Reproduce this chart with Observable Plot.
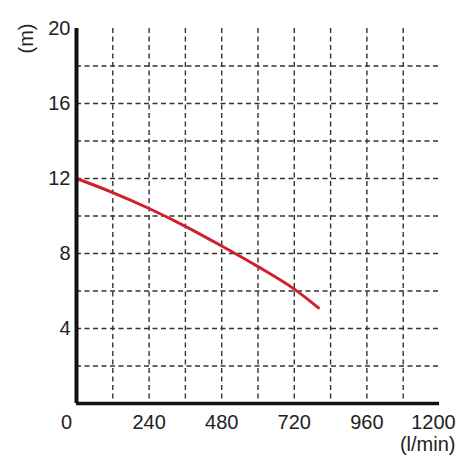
<!DOCTYPE html>
<html>
<head>
<meta charset="utf-8">
<script src="https://cdn.jsdelivr.net/npm/d3@7"></script>
<script src="https://cdn.jsdelivr.net/npm/@observablehq/plot@0.6"></script>
<style>
  html, body { margin: 0; padding: 0; background: #fff; }
  #chart { width: 475px; height: 475px; }
</style>
</head>
<body>
<div id="chart"></div>
<script>
// Flow rate (l/min) and head (m) of the pump curve
const flow = [0, 120, 240, 360, 480, 600, 720, 800];
const head = [12, 11.25, 10.4, 9.45, 8.4, 7.3, 6.1, 5.1];

const xTickValues = [0, 240, 480, 720, 960, 1200];
const yTickValues = [4, 8, 12, 16, 20];
const xGrid = [120, 240, 360, 480, 600, 720, 840, 960, 1080];
const yGrid = [2, 4, 6, 8, 10, 12, 14, 16, 18];
const xUnit = "(l/min)";
const yUnit = "(m)";

const curve = flow.map((q, i) => ({q, h: head[i]}));
const xInner = xTickValues.slice(1, -1);
const xFirst = [xTickValues[0]];
const xLast = [xTickValues[xTickValues.length - 1]];

const font = "'Liberation Sans', Arial, Helvetica, sans-serif";
const fmt = d => String(d);

const chart = Plot.plot({
  width: 475,
  height: 475,
  marginLeft: 76,
  marginRight: 36,
  marginTop: 28,
  marginBottom: 72,
  style: {fontFamily: font, fontSize: "20px", color: "#222", background: "#fff", overflow: "visible"},
  x: {domain: [0, 1200]},
  y: {domain: [0, 20]},
  marks: [
    Plot.ruleX(xGrid, {stroke: "#333", strokeWidth: 1.4, strokeDasharray: "5,3.5"}),
    Plot.ruleY(yGrid, {stroke: "#333", strokeWidth: 1.4, strokeDasharray: "5,3.5"}),
    Plot.axisX({ticks: xInner, tickSize: 0, tickPadding: 11, tickFormat: fmt, label: null, fontSize: 20, fill: "#222"}),
    Plot.axisX({ticks: xFirst, tickSize: 0, tickPadding: 11, tickFormat: fmt, label: null, fontSize: 20, fill: "#222", dx: -10}),
    Plot.axisX({ticks: xLast, tickSize: 0, tickPadding: 11, tickFormat: fmt, label: null, fontSize: 20, fill: "#222", dx: -6}),
    Plot.axisY({ticks: yTickValues, tickSize: 0, tickPadding: 6, label: null, fontSize: 20, fill: "#222"}),
    Plot.line(curve, {x: "q", y: "h", stroke: "#d0202e", strokeWidth: 3, curve: "monotone-x"}),
    Plot.ruleX([0], {stroke: "#111", strokeWidth: 4}),
    Plot.ruleY([0], {stroke: "#111", strokeWidth: 3.5}),
    Plot.text([xUnit], {frameAnchor: "bottom-right", dx: 16, dy: 41, lineAnchor: "middle", fontSize: 20, fill: "#222", textAnchor: "end"}),
    Plot.text([yUnit], {frameAnchor: "top-left", dx: -58, dy: 25, rotate: -90, fontSize: 20, fill: "#222"})
  ]
});

document.getElementById("chart").appendChild(chart);
</script>
</body>
</html>
